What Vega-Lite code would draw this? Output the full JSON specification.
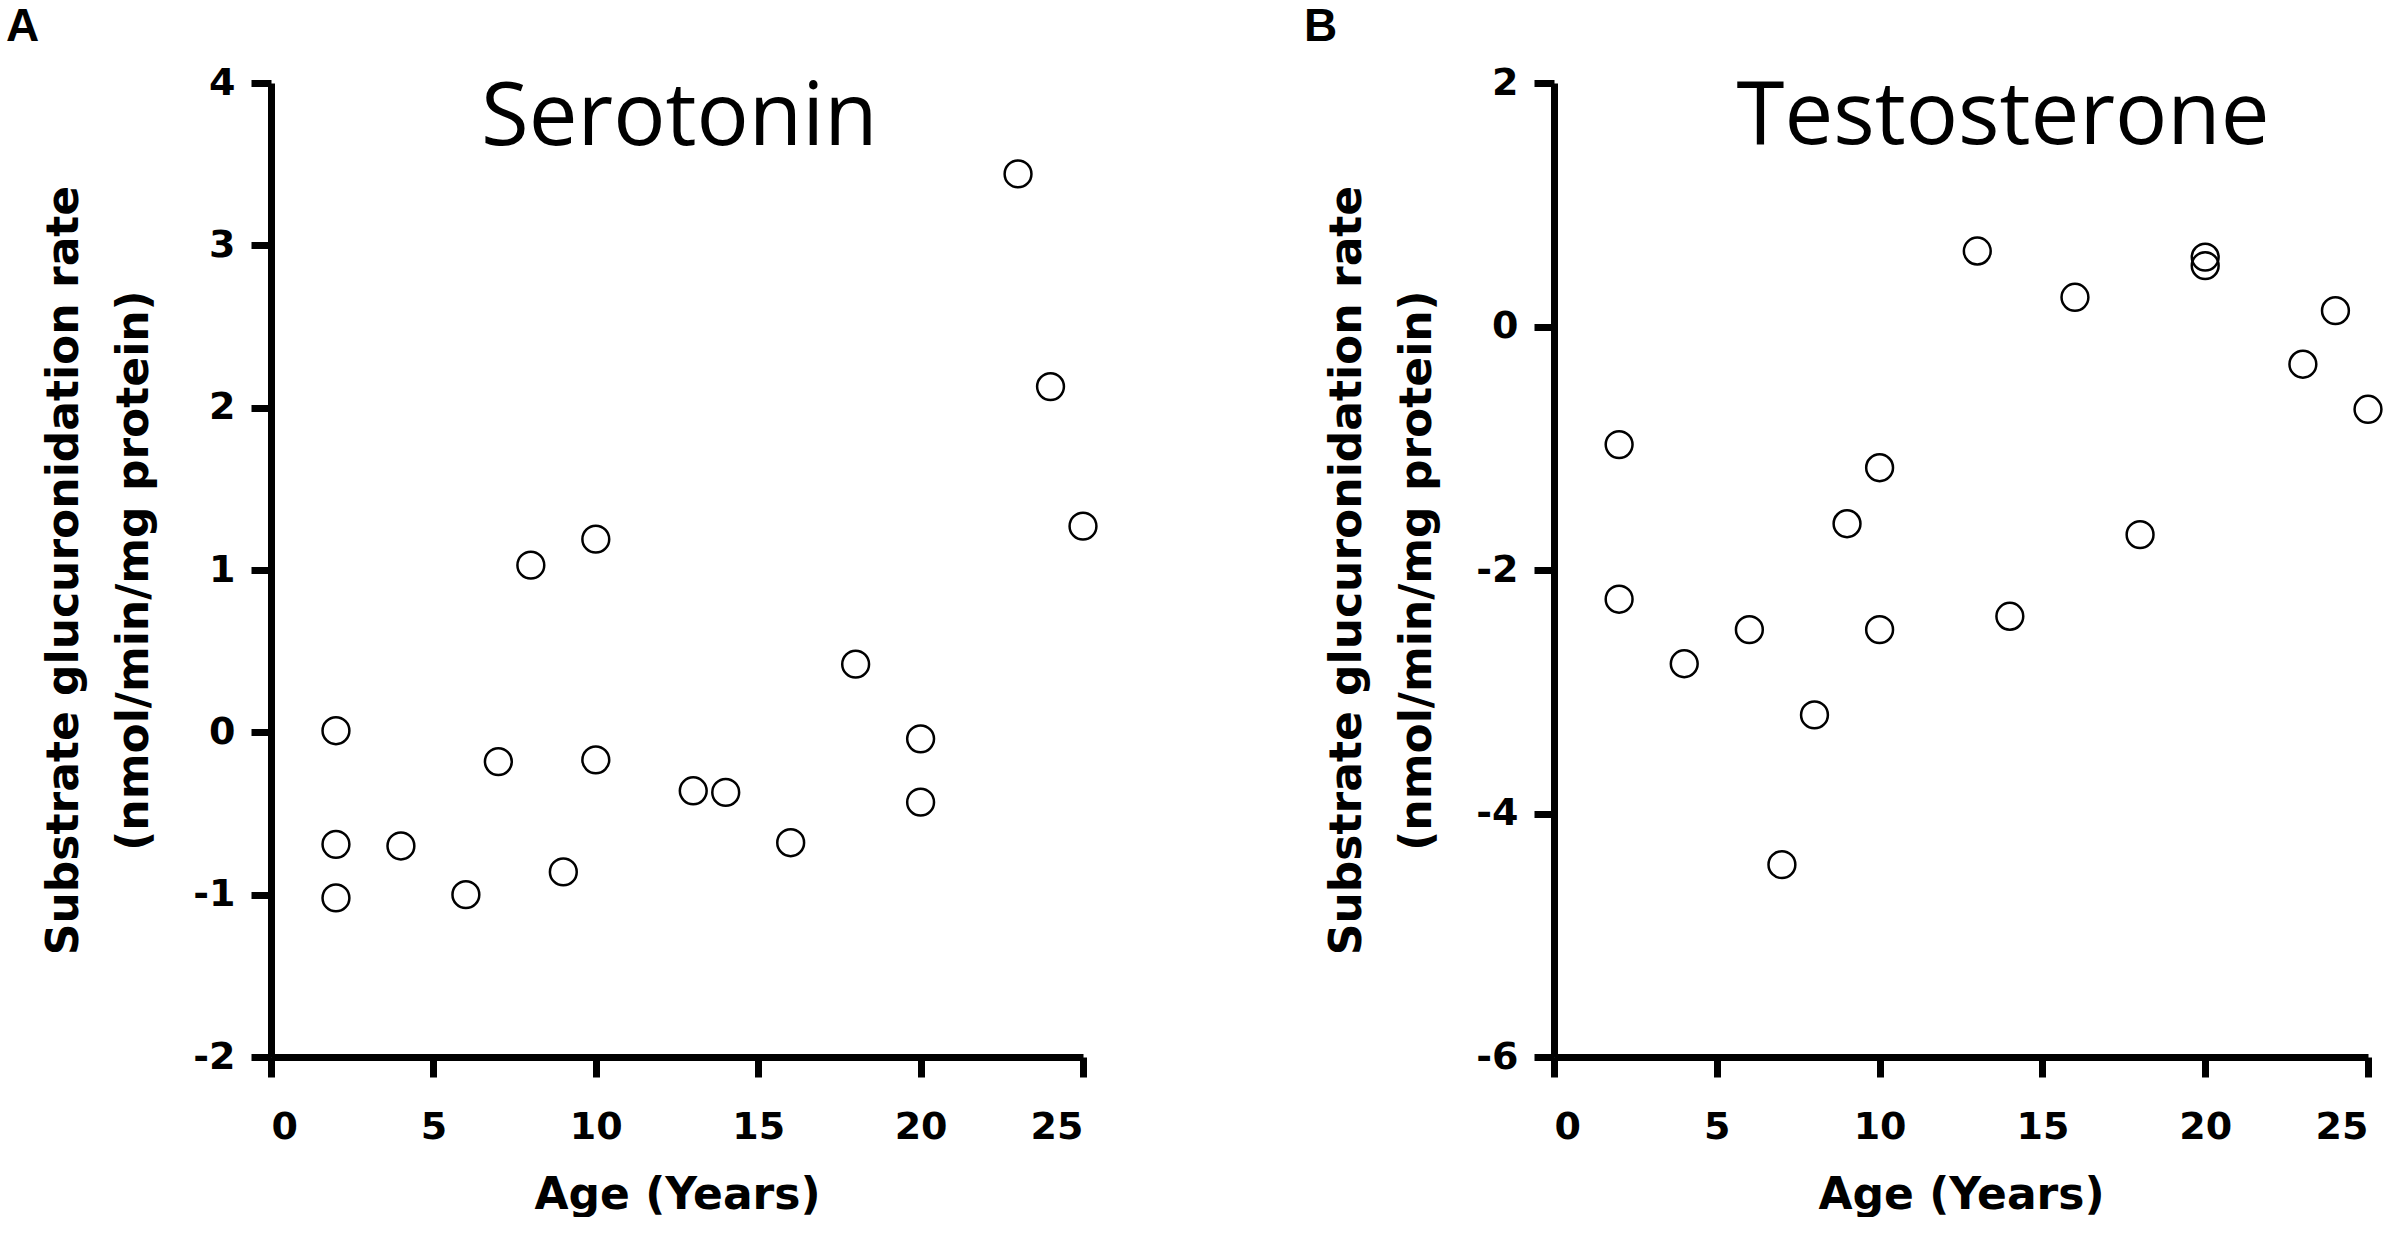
{
  "$schema": "https://vega.github.io/schema/vega-lite/v6.json",
  "background": "white",
  "padding": {"left": 6, "top": 4, "right": 0, "bottom": 0},
  "spacing": 202,
  "datasets": {
    "serotonin": [
      {"age": 2, "rate": 0.01}, {"age": 2, "rate": -0.69}, {"age": 2, "rate": -1.02},
      {"age": 4, "rate": -0.70}, {"age": 6, "rate": -1.00}, {"age": 7, "rate": -0.18},
      {"age": 8, "rate": 1.03}, {"age": 9, "rate": -0.86}, {"age": 10, "rate": 1.19},
      {"age": 10, "rate": -0.17}, {"age": 13, "rate": -0.36}, {"age": 14, "rate": -0.37},
      {"age": 16, "rate": -0.68}, {"age": 18, "rate": 0.42}, {"age": 20, "rate": -0.04},
      {"age": 20, "rate": -0.43}, {"age": 23, "rate": 3.44}, {"age": 24, "rate": 2.13},
      {"age": 25, "rate": 1.27}
    ],
    "testosterone": [
      {"age": 2, "rate": -0.97}, {"age": 2, "rate": -2.24}, {"age": 4, "rate": -2.77},
      {"age": 6, "rate": -2.49}, {"age": 7, "rate": -4.42}, {"age": 8, "rate": -3.19},
      {"age": 9, "rate": -1.62}, {"age": 10, "rate": -1.16}, {"age": 10, "rate": -2.49},
      {"age": 13, "rate": 0.62}, {"age": 14, "rate": -2.38}, {"age": 16, "rate": 0.24},
      {"age": 18, "rate": -1.71}, {"age": 20, "rate": 0.57}, {"age": 20, "rate": 0.50},
      {"age": 23, "rate": -0.31}, {"age": 24, "rate": 0.13}, {"age": 25, "rate": -0.68}
    ]
  },
  "hconcat": [
    {
      "width": 812, "height": 974,
      "title": {"text": "A", "anchor": "start", "frame": "group", "dx": -265, "offset": -23,
                "baseline": "alphabetic", "font": "Liberation Sans", "fontSize": 46, "fontWeight": "bold", "color": "black"},
      "layer": [
        {
          "data": {"name": "serotonin"},
          "mark": {"type": "point", "shape": "circle", "filled": false, "size": 720, "stroke": "black", "strokeWidth": 2.5, "opacity": 1},
          "encoding": {
            "x": {"field": "age", "type": "quantitative", "title": "Age (Years)",
                  "scale": {"domain": [0, 25], "nice": false, "zero": false},
                  "axis": {"values": [0, 5, 10, 15, 20, 25]}},
            "y": {"field": "rate", "type": "quantitative",
                  "title": ["Substrate glucuronidation rate", "(nmol/min/mg protein)"],
                  "scale": {"domain": [-2, 4], "nice": false, "zero": false},
                  "axis": {"values": [-2, -1, 0, 1, 2, 3, 4]}}
          }
        },
        {
          "data": {"values": [{}]},
          "mark": {"type": "text", "font": "Open Sans", "fontSize": 87, "align": "center", "baseline": "alphabetic", "color": "black"},
          "encoding": {
            "x": {"datum": 12.57, "type": "quantitative"},
            "y": {"datum": 3.62, "type": "quantitative"},
            "text": {"value": "Serotonin"}
          }
        }
      ]
    },
    {
      "width": 814, "height": 974,
      "title": {"text": "B", "anchor": "start", "frame": "group", "dx": -250, "offset": -23,
                "baseline": "alphabetic", "font": "Liberation Sans", "fontSize": 46, "fontWeight": "bold", "color": "black"},
      "layer": [
        {
          "data": {"name": "testosterone"},
          "mark": {"type": "point", "shape": "circle", "filled": false, "size": 720, "stroke": "black", "strokeWidth": 2.5, "opacity": 1},
          "encoding": {
            "x": {"field": "age", "type": "quantitative", "title": "Age (Years)",
                  "scale": {"domain": [0, 25], "nice": false, "zero": false},
                  "axis": {"values": [0, 5, 10, 15, 20, 25]}},
            "y": {"field": "rate", "type": "quantitative",
                  "title": ["Substrate glucuronidation rate", "(nmol/min/mg protein)"],
                  "scale": {"domain": [-6, 2], "nice": false, "zero": false},
                  "axis": {"values": [-6, -4, -2, 0, 2]}}
          }
        },
        {
          "data": {"values": [{}]},
          "mark": {"type": "text", "font": "Open Sans", "fontSize": 87, "align": "center", "baseline": "alphabetic", "color": "black"},
          "encoding": {
            "x": {"datum": 13.79, "type": "quantitative"},
            "y": {"datum": 1.5, "type": "quantitative"},
            "text": {"value": "Testosterone"}
          }
        }
      ]
    }
  ],
  "config": {
    "view": {"stroke": null},
    "axis": {
      "grid": false,
      "domainColor": "black", "domainWidth": 7,
      "tickColor": "black", "tickWidth": 7, "tickSize": 20,
      "labelFont": "DejaVu Sans", "labelFontWeight": "bold", "labelFontSize": 38, "labelColor": "black",
      "labelExpr": "'' + datum.value",
      "titleFont": "DejaVu Sans", "titleFontWeight": "bold", "titleColor": "black"
    },
    "axisX": {"labelPadding": 31, "titleFontSize": 44, "titlePadding": 27},
    "axisY": {"labelPadding": 16, "titleFontSize": 44, "titleLineHeight": 70, "titlePadding": 36}
  }
}
